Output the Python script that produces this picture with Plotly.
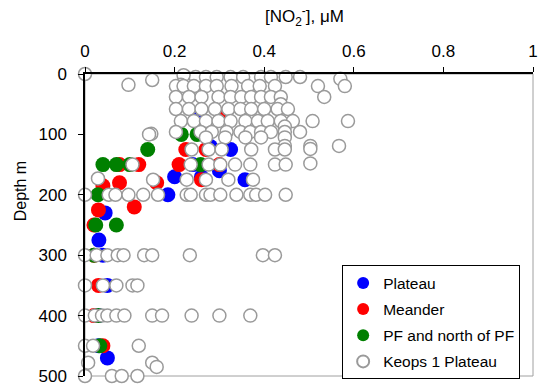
import plotly.graph_objects as go

# ---- data: nitrite (uM) and depth (m) ----
plateau_no2 = [0.20, 0.185, 0.325, 0.357, 0.045, 0.031, 0.05, 0.24, 0.30, 0.05, 0.04, 0.03, 0.26, 0.25, 0.28, 0.03]
plateau_depth = [170, 200, 125, 175, 230, 275, 470, 150, 160, 350, 300, 450, 170, 70, 120, 400]

meander_no2 = [0.03, 0.11, 0.02, 0.077, 0.04, 0.16, 0.21, 0.225, 0.12, 0.077, 0.03, 0.04, 0.02, 0.02, 0.26, 0.30, 0.27, 0.313]
meander_depth = [225, 220, 250, 180, 185, 180, 150, 125, 150, 150, 350, 450, 300, 400, 175, 150, 125, 66]

pf_no2 = [0.14, 0.04, 0.07, 0.029, 0.07, 0.024, 0.033, 0.215, 0.25, 0.258, 0.10, 0.02, 0.03]
pf_depth = [125, 150, 150, 200, 250, 250, 450, 100, 100, 150, 150, 300, 400]

keops_no2 = [
    0.0, 0.225, 0.247, 0.27, 0.294, 0.325, 0.353, 0.393, 0.415, 0.448, 0.48, 0.57, 0.22, 0.097, 0.15, 0.214,
    0.203, 0.22, 0.243, 0.27, 0.294, 0.327, 0.364, 0.39, 0.424, 0.52, 0.58,
    0.203, 0.232, 0.26, 0.298, 0.325, 0.349, 0.371, 0.393, 0.415, 0.437, 0.534,
    0.437,
    0.203, 0.232, 0.26, 0.29, 0.32, 0.347, 0.371, 0.40, 0.43, 0.453,
    0.214, 0.243, 0.27, 0.298, 0.325, 0.358, 0.386, 0.408, 0.437, 0.464, 0.508, 0.587,
    0.446,
    0.203, 0.258, 0.283, 0.316, 0.347, 0.369, 0.393, 0.415, 0.446, 0.48, 0.148, 0.143,
    0.27, 0.313, 0.358, 0.393, 0.446, 0.503, 0.567, 0.503, 0.446,
    0.238, 0.276, 0.305, 0.371, 0.424, 0.446,
    0.236, 0.276, 0.302, 0.335, 0.369, 0.424, 0.448, 0.503, 0.106,
    0.227, 0.27, 0.32, 0.375, 0.029, 0.152,
    0.0, 0.053, 0.068, 0.097, 0.13, 0.163, 0.227, 0.236, 0.27, 0.28, 0.302, 0.338, 0.369, 0.382, 0.402, 0.448,
    0.0, 0.026, 0.05, 0.073, 0.086, 0.132, 0.15, 0.234, 0.397, 0.424,
    0.0, 0.04, 0.07, 0.106, 0.117,
    0.0, 0.022, 0.038, 0.05, 0.07, 0.088, 0.15, 0.172, 0.238, 0.30, 0.369,
    0.0, 0.018, 0.12,
    0.007, 0.15, 0.16,
    0.0, 0.06, 0.082, 0.117,
]
keops_depth = [
    0, 5, 5, 5, 5, 5, 5, 5, 5, 5, 5, 8, 2, 18, 10, 18,
    20, 20, 20, 20, 20, 20, 20, 20, 20, 20, 20,
    38, 38, 38, 38, 38, 38, 38, 38, 38, 38, 38,
    50,
    58, 58, 58, 58, 58, 58, 58, 58, 58, 58,
    78, 78, 78, 78, 78, 78, 78, 78, 78, 78, 78, 78,
    87,
    96, 96, 96, 96, 96, 96, 96, 96, 96, 96, 99, 100,
    105, 105, 105, 105, 105, 119, 119, 124, 119,
    125, 125, 125, 125, 125, 125,
    150, 150, 150, 150, 150, 150, 150, 148, 150,
    175, 175, 175, 175, 173, 175,
    200, 200, 200, 200, 200, 200, 200, 200, 200, 200, 200, 200, 200, 200, 200, 200,
    300, 300, 300, 300, 300, 300, 300, 300, 300, 300,
    350, 350, 350, 350, 350,
    400, 400, 400, 400, 400, 400, 400, 400, 400, 400, 400,
    450, 450, 450,
    478, 478, 485,
    500, 500, 500, 500,
]

fig = go.Figure()
for name, xs, ys, col in [
    ("Plateau", plateau_no2, plateau_depth, "#0000ff"),
    ("Meander", meander_no2, meander_depth, "#ff0000"),
    ("PF and north of PF", pf_no2, pf_depth, "#008000"),
]:
    fig.add_trace(go.Scatter(
        x=xs, y=ys, mode="markers", name=name, legendgroup=name,
        marker=dict(size=15, color=col, line=dict(width=0)),
        cliponaxis=False,
    ))
fig.add_trace(go.Scatter(
    x=keops_no2, y=keops_depth, mode="markers", name="Keops 1 Plateau", legendgroup="k",
    marker=dict(size=13, color="white", line=dict(width=1.5, color="#9a9a9a")),
    cliponaxis=False,
))

font = "Arial, Liberation Sans, sans-serif"
fig.update_layout(
    width=544, height=392,
    margin=dict(l=85, r=6, t=74, b=15),
    paper_bgcolor="white", plot_bgcolor="white",
    font=dict(family=font, size=17, color="black"),
    showlegend=True,
    legend=dict(
        x=(525 - 85) / 453, y=(377 - 266) / 303, xanchor="right", yanchor="top",
        bordercolor="black", borderwidth=1, bgcolor="white",
        font=dict(size=15.5), tracegroupgap=3, itemsizing="constant", itemwidth=30,
    ),
    xaxis=dict(
        side="top", range=[0, 1], dtick=0.2, tick0=0,
        showgrid=False, zeroline=False,
        showline=True, linecolor="black", linewidth=2,
        ticks="outside", ticklen=5, tickcolor="black", tickwidth=1,
        ticklabelstandoff=3,
    ),
    yaxis=dict(
        range=[500, 0], dtick=100, tick0=0,
        showgrid=False, zeroline=False,
        showline=True, linecolor="black", linewidth=1.5,
        ticks="outside", ticklen=5, tickcolor="black", tickwidth=1,
        ticklabelstandoff=8,
    ),
    shapes=[dict(type="rect", xref="paper", yref="paper", x0=0, x1=1, y0=0, y1=1,
                 line=dict(color="#a0a0a0", width=1), layer="below")],
    annotations=[
        dict(text="[NO<sub>2</sub><sup>-</sup>], μM", xref="paper", yref="paper",
             x=(307 - 85) / 453, y=1 + (74 - 16) / 303, showarrow=False,
             font=dict(size=17), xanchor="center", yanchor="middle"),
        dict(text="Depth m", xref="paper", yref="paper",
             x=(20 - 85) / 453, y=(377 - 192) / 303, showarrow=False, textangle=-90,
             font=dict(size=16), xanchor="center", yanchor="middle"),
    ],
)

fig.write_html("out.html")
